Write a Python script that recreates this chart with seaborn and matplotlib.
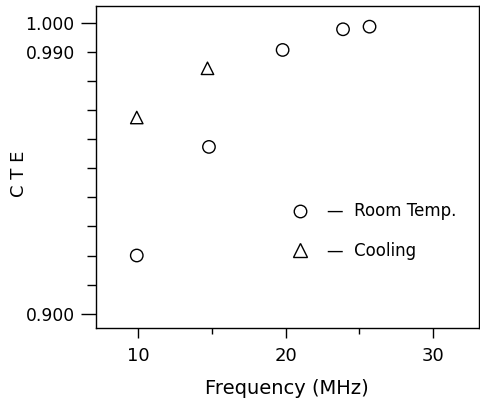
import matplotlib
matplotlib.use("Agg")
import matplotlib.pyplot as plt
import seaborn as sns
import pandas as pd
from matplotlib.lines import Line2D
from matplotlib.ticker import FixedLocator, FuncFormatter, NullFormatter

# Data
room_freq = [9.9, 14.8, 19.8, 23.9, 25.7]
room_cte = [0.920, 0.9573, 0.9906, 0.9977, 0.9986]
cool_freq = [9.9, 14.7]
cool_cte = [0.9674, 0.9843]
series_labels = ["Room Temp.", "Cooling"]
x_major = [10, 20, 30]
x_minor = [15, 25]
y_major = [0.900, 1.000]
y_minor = [0.90 + 0.01 * i for i in range(11)]

df = pd.DataFrame({
    "freq": room_freq + cool_freq,
    "cte": room_cte + cool_cte,
    "series": [series_labels[0]] * len(room_freq) + [series_labels[1]] * len(cool_freq),
})

sns.set_style("ticks")
plt.rcParams["font.family"] = ["DejaVu Sans"]
plt.rcParams["text.color"] = "black"
plt.rcParams["axes.labelcolor"] = "black"
plt.rcParams["xtick.color"] = "black"
plt.rcParams["ytick.color"] = "black"

fig = plt.figure(figsize=(4.8, 4.13), dpi=100)
ax = fig.add_axes([0.199, 0.2058, 0.798, 0.7797])

sns.scatterplot(data=df, x="freq", y="cte", style="series",
                markers={"Room Temp.": "o", "Cooling": "^"},
                s=80, ax=ax, legend=False,
                edgecolor="black", linewidth=1.0, color="white")
for coll in ax.collections:
    coll.set_facecolor("none")
    coll.set_edgecolor("black")

ax.set_xlim(7.1, 33.1)
ax.set_ylim(0.8951, 1.0057)

ax.xaxis.set_major_locator(FixedLocator(x_major))
ax.xaxis.set_minor_locator(FixedLocator(x_minor))
ax.yaxis.set_major_locator(FixedLocator(y_major))
ax.yaxis.set_minor_locator(FixedLocator(y_minor))
ax.yaxis.set_major_formatter(FuncFormatter(lambda v, p: f"{v:.3f}"))
ax.yaxis.set_minor_formatter(FuncFormatter(lambda v, p: "0.990" if abs(v - 0.99) < 1e-6 else ""))
ax.xaxis.set_minor_formatter(NullFormatter())

ax.tick_params(axis="x", which="major", length=7, width=1, pad=7, labelsize=13, color="black", labelcolor="black")
ax.tick_params(axis="x", which="minor", length=4, width=1, color="black")
ax.tick_params(axis="y", which="major", length=11, width=1, pad=4, labelsize=12.3, color="black", labelcolor="black")
ax.tick_params(axis="y", which="minor", length=6.5, width=1, pad=8.5, labelsize=12.3, color="black", labelcolor="black")

for sp in ax.spines.values():
    sp.set_visible(True)
    sp.set_color("black")
    sp.set_linewidth(1.0)

ax.set_xlabel("Frequency (MHz)", fontsize=14, labelpad=10, color="black")
ax.set_ylabel("C T E", fontsize=13, color="black")
ax.yaxis.set_label_coords(-0.175, 0.48)

handles = [
    Line2D([], [], marker="o", linestyle="none", markersize=9, markerfacecolor="none",
           markeredgecolor="black", markeredgewidth=1.0),
    Line2D([], [], marker="^", linestyle="none", markersize=10, markerfacecolor="none",
           markeredgecolor="black", markeredgewidth=1.0),
]
leg = ax.legend(handles, ["\u2014  " + series_labels[0], "\u2014  " + series_labels[1]],
                loc="upper left", bbox_to_anchor=(0.512, 0.39), frameon=False,
                borderpad=0, borderaxespad=0, handlelength=1.0, handletextpad=1.1,
                labelspacing=1.3, fontsize=12)
for t in leg.get_texts():
    t.set_color("black")

fig.savefig("out.png", dpi=100)
